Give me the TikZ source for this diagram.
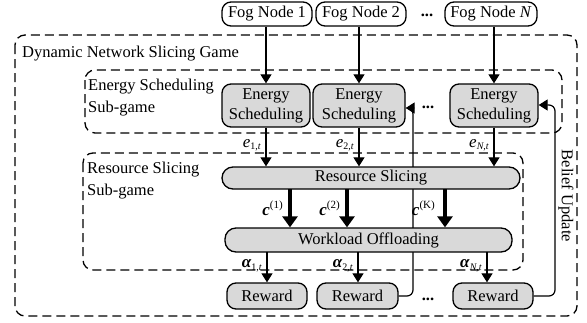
\documentclass[tikz,border=0pt]{standalone}
\usepackage{fontspec}
\setmainfont{Liberation Serif}
\usetikzlibrary{arrows.meta}
\begin{document}
\begin{tikzpicture}[x=1pt,y=-1pt,
  every node/.style={font=\fontsize{16.5}{20}\selectfont, inner sep=0pt},
  block/.style={draw, line width=1.3pt, fill=black!15, rounded corners=9pt,
    align=center, minimum height=26pt},
  source/.style={block, fill=white},
  pill/.style={draw, line width=1.3pt, fill=black!15, rounded corners=11pt,
    minimum height=23pt},
  region/.style={draw, line width=1.3pt, dash pattern=on 9pt off 5pt, rounded corners=10pt},
  flow/.style={line width=1.2pt, -{Triangle[length=9pt,width=11pt]}},
  bigflow/.style={line width=3.4pt, -{Triangle[length=11pt,width=15pt]}},
  tag/.style={font=\fontsize{17}{20}\selectfont, anchor=east},
  dots/.style={font=\fontsize{16.5}{20}\selectfont\bfseries}
]
\useasboundingbox (0,0) rectangle (587,322);

% enclosing regions
\draw[region] (15,35) rectangle (577,316);
\draw[region] (85,70) rectangle (562,133);
\draw[region] (83,153) rectangle (523,270);
\node[anchor=west] (gametitle) at (22,54) {Dynamic Network Slicing Game};
\node[anchor=north west, align=left] (estitle) at (88,79) {Energy Scheduling\\[2pt]Sub-game};
\node[anchor=north west, align=left] (rstitle) at (87,162) {Resource Slicing\\[2pt]Sub-game};

% fog nodes
\node[source, minimum width=90pt, minimum height=24pt] (fog1) at (267,14) {Fog Node 1};
\node[source, minimum width=90pt, minimum height=24pt] (fog2) at (361,14) {Fog Node 2};
\node[source, minimum width=92pt, minimum height=24pt] (fogN) at (491,14) {Fog Node \textit{N}};
\node[dots] (fogdots) at (427,15) {...};

% energy scheduling
\node[block, minimum width=88pt, minimum height=43pt] (es1) at (266,105.5) {Energy\\Scheduling};
\node[block, minimum width=92pt, minimum height=43pt] (es2) at (359,105.5) {Energy\\Scheduling};
\node[block, minimum width=88pt, minimum height=43pt] (esN) at (494,105.5) {Energy\\Scheduling};
\node[dots] (esdots) at (428,107) {...};

% rewards
\node[block, minimum width=80pt] (r1) at (267,296) {Reward};
\node[block, minimum width=81pt] (r2) at (357.5,296) {Reward};
\node[block, minimum width=80pt] (rN) at (493,296) {Reward};
\node[dots] (rdots) at (428,299) {...};

% feedback paths (behind the slicing blocks)
\coordinate (fb2a) at (413,296);
\coordinate (fb2b) at (413,108);
\coordinate (fbNa) at (555,296);
\coordinate (fbNb) at (555,105);
\draw[line width=1.2pt, rounded corners=6pt, -{Triangle[length=9pt,width=11pt]}]
  (r2.east) -- (fb2a) -- (fb2b) -- ([yshift=-2.5pt]es2.east);
\draw[line width=1.2pt, rounded corners=6pt, -{Triangle[length=9pt,width=11pt]}]
  (rN.east) -- (fbNa) -- (fbNb) -- ([yshift=0.5pt]esN.east);
\node[rotate=-90] (belief) at (566,196) {Belief Update};

% slicing and offloading
\node[pill, minimum width=298pt, minimum height=22pt] (rs) at (371,178) {Resource Slicing};
\node[pill, minimum width=287pt, minimum height=24pt] (wo) at (368.5,240) {Workload Offloading};

% fog -> energy scheduling
\draw[flow] (fog1.south -| es1) -- (es1.north);
\draw[flow] (fog2.south -| es2) -- (es2.north);
\draw[flow] (fogN.south -| esN) -- (esN.north);

% energy scheduling -> resource slicing
\draw[flow] (es1.south) -- (es1.south |- rs.north) node[pos=0.45, tag, xshift=-4pt] (e1) {\textit{e}\textsubscript{\fontsize{10}{11}\selectfont 1,\textit{t}}};
\draw[flow] (es2.south) -- (es2.south |- rs.north) node[pos=0.45, tag, xshift=-4pt] (e2) {\textit{e}\textsubscript{\fontsize{10}{11}\selectfont 2,\textit{t}}};
\draw[flow] (esN.south) -- (esN.south |- rs.north) node[pos=0.45, tag, xshift=-4pt] (eN) {\textit{e}\textsubscript{\fontsize{10}{11}\selectfont\textit{N},\textit{t}}};

% resource slicing -> workload offloading
\draw[bigflow] (290,189) coordinate (c1a) -- (c1a |- wo.north) node[midway, tag, xshift=-5pt] (c1) {\textbf{\textit{c}}\textsuperscript{\fontsize{11}{12}\selectfont(1)}};
\draw[bigflow] (347,189) coordinate (c2a) -- (c2a |- wo.north) node[midway, tag, xshift=-5pt] (c2) {\textbf{\textit{c}}\textsuperscript{\fontsize{11}{12}\selectfont(2)}};
\draw[bigflow] (445,189) coordinate (cKa) -- (cKa |- wo.north) node[midway, tag, xshift=-8pt] (cK) {\textbf{\textit{c}}\textsuperscript{\fontsize{11}{12}\selectfont(K)}};

% workload offloading -> rewards
\draw[flow] (267,252) coordinate (a1a) -- (a1a |- r1.north) node[pos=0.45, tag, xshift=-4pt] (a1) {\textbf{\textit{α}}\textsubscript{\fontsize{10}{11}\selectfont 1,\textit{t}}};
\draw[flow] (358,252) coordinate (a2a) -- (a2a |- r2.north) node[pos=0.45, tag, xshift=-4pt] (a2) {\textbf{\textit{α}}\textsubscript{\fontsize{10}{11}\selectfont 2,\textit{t}}};
\draw[flow] (487,252) coordinate (aNa) -- (aNa |- rN.north) node[pos=0.45, tag, xshift=-4pt] (aN) {\textbf{\textit{α}}\textsubscript{\fontsize{10}{11}\selectfont\textit{N},\textit{t}}};
\end{tikzpicture}
\end{document}
